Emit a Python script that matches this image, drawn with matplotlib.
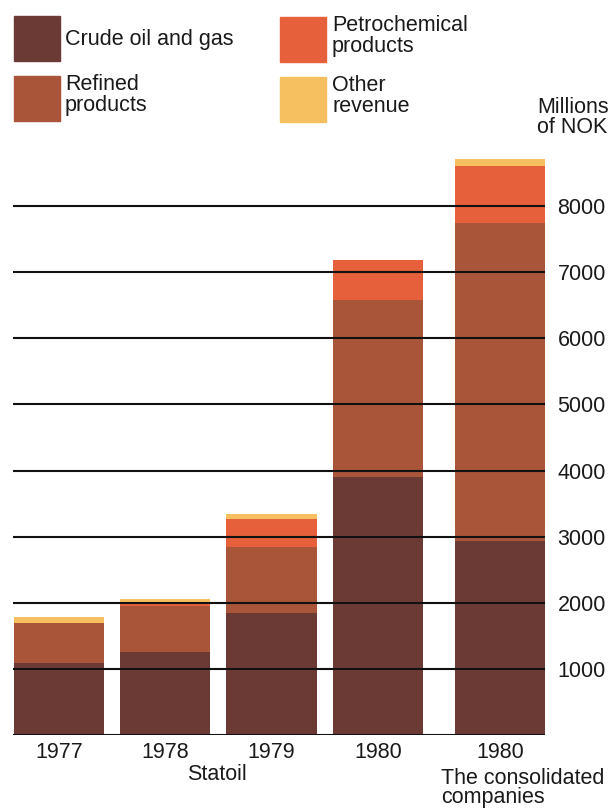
import matplotlib
matplotlib.use("Agg")
import matplotlib.pyplot as plt
from matplotlib.patches import Rectangle
import numpy as np

plt.rcParams['font.family'] = ['Liberation Sans', 'DejaVu Sans']

# revenue by source, millions of NOK
years = ["1977", "1978", "1979", "1980", "1980"]
crude_oil_gas = [1090, 1260, 1840, 3910, 2930]
refined_products = [610, 700, 1010, 2670, 4810]
petrochemical = [0, 50, 420, 605, 870]
other_revenue = [80, 50, 70, 0, 110]
yticks = [1000, 2000, 3000, 4000, 5000, 6000, 7000, 8000]

series = [
    ("Crude oil and gas", crude_oil_gas, "#6c3a34"),
    ("Refined\nproducts", refined_products, "#a8553a"),
    ("Petrochemical\nproducts", petrochemical, "#e6603b"),
    ("Other\nrevenue", other_revenue, "#f6c060"),
]

W, H = 610, 808
fig = plt.figure(figsize=(W / 100, H / 100), dpi=100)
fig.patch.set_facecolor("white")

def fx(x):
    return x / W

def fy(y):
    return 1 - y / H

ax = fig.add_axes([fx(13), fy(735.1), fx(545) - fx(13), (735.1 - 140) / H])
pos = np.array([0, 1, 2, 3, 4.15])
bottom = np.zeros(len(years))
for name, vals, col in series:
    ax.bar(pos, vals, width=0.85, bottom=bottom, color=col, zorder=1)
    bottom += np.array(vals)

ax.set_xlim(-0.43, 4.57)
ax.set_ylim(0, 9000)
for s in ax.spines.values():
    s.set_visible(False)

ax.set_yticks(yticks)
ax.yaxis.tick_right()
ax.tick_params(axis="y", length=0, pad=9, labelsize=15.5, labelcolor="#1a1a1a")
ax.set_xticks(pos, years)
ax.tick_params(axis="x", length=0, pad=5, labelsize=15.5, labelcolor="#1a1a1a")

# horizontal rules run over the bars
for v in [0] + yticks:
    ax.axhline(v, color="#111111", lw=1.5, zorder=3)

fig.text(fx(217), fy(775), "Statoil", ha="center", va="center", fontsize=15.5, color="#1a1a1a")
fig.text(fx(441), fy(768), "The consolidated\ncompanies", ha="left", va="top",
         fontsize=15.5, color="#1a1a1a", linespacing=0.9)
fig.text(fx(537), fy(97), "Millions\nof NOK", ha="left", va="top",
         fontsize=15.5, color="#1a1a1a", linespacing=0.95)

# legend boxes
legend_spots = [(14, 16, 65), (14, 76, 65), (280, 17, 332), (280, 77, 332)]
for (name, vals, col), (bx, by, tx) in zip(series, legend_spots):
    fig.patches.append(Rectangle((fx(bx), fy(by + 45)), 46 / W, 45 / H,
                                 transform=fig.transFigure, color=col))
    if "\n" in name:
        fig.text(fx(tx), fy(by - 2), name, ha="left", va="top", fontsize=15.5,
                 color="#1a1a1a", linespacing=0.97)
    else:
        fig.text(fx(tx), fy(by + 23), name, ha="left", va="center", fontsize=15.5,
                 color="#1a1a1a")

fig.savefig("out.png", dpi=100, facecolor="white")
